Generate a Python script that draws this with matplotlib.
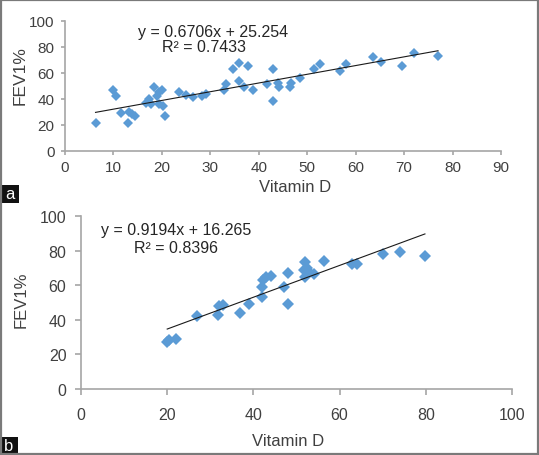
import numpy as np
import matplotlib.pyplot as plt
from matplotlib.patches import Rectangle

plt.rcParams['font.family'] = ['Liberation Sans', 'DejaVu Sans']

# panel a: vitamin D vs FEV1%
vit_a = [6.3, 10, 10.5, 11.5, 13, 13.3, 13.8, 14.4, 16.8, 17.3, 17.8, 18.3, 19.0, 19.4,
         20.1, 19.5, 20.3, 20.6, 23.5, 25, 26.5, 28.3, 29.1, 32.8, 33.3, 34.6, 36, 36,
         36.9, 37.7, 38.8, 41.8, 43, 43, 43.9, 44.2, 46.5, 46.7, 48.5, 51.3, 52.7, 56.8,
         58, 63.5, 65.3, 69.5, 72, 77]
fev_a = [21, 47, 42, 29, 21, 30, 28, 27, 37, 39.5, 36, 49, 42, 45,
         47, 36, 34.5, 27, 45, 43, 41, 42, 44, 47, 51, 63, 67.5, 54,
         49, 65, 47, 51, 63, 38, 52, 49, 49, 52, 56, 63, 67, 61,
         67, 72, 68, 65, 75, 73]
slope_a, icept_a = 0.6706, 25.254
eq_a = 'y = 0.6706x + 25.254'
r2_a = 'R² = 0.7433'

# panel b
vit_b = [20, 20.4, 22, 27, 31.8, 32, 33, 37, 39, 42, 42, 42.3, 43, 44, 47, 48, 48,
         51.8, 52, 52, 52.5, 53, 54, 56.3, 62.8, 64, 70, 74, 79.8]
fev_b = [27, 28.3, 29, 42, 43, 48, 48.5, 44, 49, 53, 59, 63, 64.5, 65.5, 59, 67, 49,
         69, 73.5, 64.5, 70, 67.5, 66.5, 74, 72.3, 72, 78, 79, 77]
slope_b, icept_b = 0.9194, 16.265
eq_b = 'y = 0.9194x + 16.265'
r2_b = 'R² = 0.8396'

W, H = 539, 456
fig = plt.figure(figsize=(W / 100, H / 100), dpi=100)

blue = '#5b9bd5'
grey = '#a6a6a6'
txt = '#404040'


def px(x, y):
    # pixel position -> figure fraction
    return x / W, 1 - y / H


def panel(rect, x, y, slope, icept, xmax, xstep, ms, fs, xpad, ypad, tlen):
    ax = fig.add_axes(rect)
    ax.plot(x, y, linestyle='none', marker='D', ms=ms, color=blue, mew=0)
    xx = np.array([min(x), max(x)])
    ax.plot(xx, slope * xx + icept, color='#1a1a1a', lw=0.8)
    ax.set_xlim(0, xmax)
    ax.set_ylim(0, 100)
    ax.set_xticks(np.arange(0, xmax + 1, xstep))
    ax.set_yticks(np.arange(0, 101, 20))
    for s in ['top', 'right']:
        ax.spines[s].set_visible(False)
    for s in ['left', 'bottom']:
        ax.spines[s].set_color(grey)
        ax.spines[s].set_linewidth(1.2)
    ax.tick_params(axis='x', direction='out', length=tlen, width=1.2, color=grey,
                   labelsize=fs, labelcolor=txt, pad=xpad)
    ax.tick_params(axis='y', direction='out', length=tlen, width=1.2, color=grey,
                   labelsize=fs, labelcolor=txt, pad=ypad)
    ax.patch.set_alpha(0)
    return ax


ax_a = panel([65 / W, 1 - 151.7 / H, (501 - 65) / W, 130 / H], vit_a, fev_a,
             slope_a, icept_a, 90, 10, 5.1, 11, 3.5, 4.5, 3)
ax_b = panel([81 / W, 1 - 390 / H, (512 - 81) / W, 173 / H], vit_b, fev_b,
             slope_b, icept_b, 100, 20, 6.1, 11.5, 9, 6.5, 4)

# equations and axis titles
fig.text(*px(213.5, 33), eq_a, ha='center', va='center', fontsize=11.5, color='#262626')
fig.text(*px(203.5, 48), r2_a, ha='center', va='center', fontsize=11.5, color='#262626')
fig.text(*px(176, 231), eq_b, ha='center', va='center', fontsize=11.5, color='#262626')
fig.text(*px(175.5, 249), r2_b, ha='center', va='center', fontsize=11.5, color='#262626')

fig.text(*px(295, 188), 'Vitamin D', ha='center', va='center', fontsize=12, color=txt)
fig.text(*px(288.5, 441.5), 'Vitamin D', ha='center', va='center', fontsize=12, color=txt)
fig.text(*px(20.5, 76), 'FEV1%', ha='center', va='center', rotation=90, fontsize=12.5, color=txt)
fig.text(*px(21.5, 300), 'FEV1%', ha='center', va='center', rotation=90, fontsize=12, color=txt)

# panel letters in black boxes
for (x0, y0, w, h), lab in [((0, 186, 19, 18), 'a'), ((0, 438, 18, 18), 'b')]:
    fig.patches.append(Rectangle(px(x0, y0 + h), w / W, h / H, transform=fig.transFigure,
                                 facecolor='#111111', edgecolor='none'))
    fig.text(*px(x0 + w / 2, y0 + h / 2), lab, ha='center', va='center',
             fontsize=12, color='white')

# outer frame
fig.patches.append(Rectangle((0.002, 0.002), 0.996, 0.996, transform=fig.transFigure,
                             facecolor='none', edgecolor='#7a7a7a', lw=1.6))

fig.savefig('out.png', dpi=100)
